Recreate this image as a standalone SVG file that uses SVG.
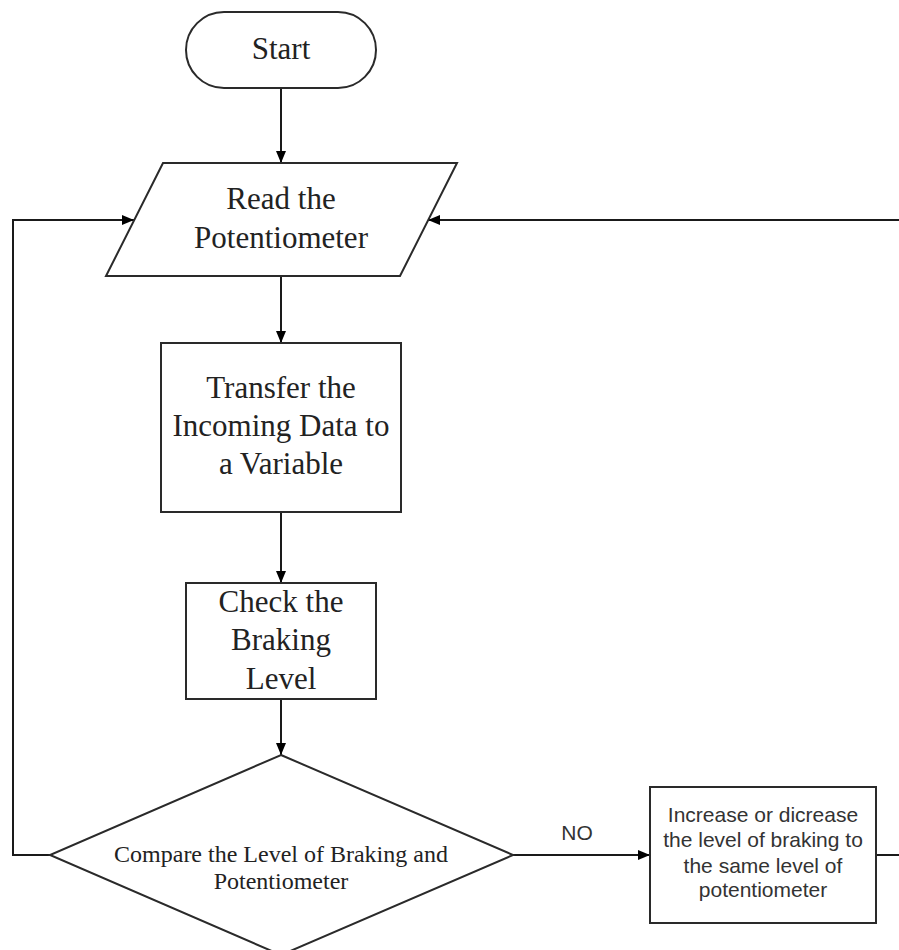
<svg xmlns="http://www.w3.org/2000/svg" width="899" height="950" viewBox="0 0 899 950">
<defs>
<style>
.shape{fill:#fff;stroke:#2a2a2a;stroke-width:2}
.line{fill:none;stroke:#1a1a1a;stroke-width:2}
.serif{font-family:"Liberation Serif","Times New Roman",serif;fill:#222;text-anchor:middle}
.sans{font-family:"Liberation Sans",Arial,sans-serif;fill:#333;text-anchor:middle}
</style>
<marker id="arr" markerUnits="userSpaceOnUse" markerWidth="12" markerHeight="12" viewBox="0 0 12 12" refX="12" refY="6" orient="auto">
<path d="M0,1 L12,6 L0,11 Z" fill="#000"/>
</marker>
</defs>
<rect width="899" height="950" fill="#fff"/>
<g id="connectors">
<line class="line" x1="281" y1="88" x2="281" y2="163" marker-end="url(#arr)"/>
<line class="line" x1="281" y1="276" x2="281" y2="343" marker-end="url(#arr)"/>
<line class="line" x1="281" y1="512" x2="281" y2="583" marker-end="url(#arr)"/>
<line class="line" x1="281" y1="699" x2="281" y2="755" marker-end="url(#arr)"/>
<polyline class="line" points="50,855 13,855 13,220 134,220" marker-end="url(#arr)"/>
<line class="line" x1="513" y1="855" x2="650" y2="855" marker-end="url(#arr)"/>
<text class="sans" x="577" y="840" font-size="21">NO</text>
<line class="line" x1="876" y1="855" x2="899" y2="855"/>
<line class="line" x1="899" y1="220" x2="428" y2="220" marker-end="url(#arr)"/>
</g>
<g id="start">
<rect class="shape" x="186" y="12" width="190" height="76" rx="38" ry="38"/>
<text class="serif" x="281" y="59" font-size="31">Start</text>
</g>
<g id="read">
<polygon class="shape" points="163,163 457,163 400,276 106,276"/>
<text class="serif" x="281" y="209" font-size="31">Read the</text>
<text class="serif" x="281" y="248" font-size="31">Potentiometer</text>
</g>
<g id="transfer">
<rect class="shape" x="161" y="343" width="240" height="169"/>
<text class="serif" x="281" y="398" font-size="31">Transfer the</text>
<text class="serif" x="281" y="436" font-size="31">Incoming Data to</text>
<text class="serif" x="281" y="474" font-size="31">a Variable</text>
</g>
<g id="check">
<rect class="shape" x="186" y="583" width="190" height="116"/>
<text class="serif" x="281" y="612" font-size="31">Check the</text>
<text class="serif" x="281" y="650" font-size="31">Braking</text>
<text class="serif" x="281" y="689" font-size="31">Level</text>
</g>
<g id="compare">
<polygon class="shape" points="281,755 513,855 281,955 50,855"/>
<text class="serif" x="281" y="862" font-size="24">Compare the Level of Braking and</text>
<text class="serif" x="281" y="889" font-size="24">Potentiometer</text>
</g>
<g id="adjust">
<rect class="shape" x="650" y="787" width="226" height="136"/>
<text class="sans" x="763" y="822" font-size="21">Increase or dicrease</text>
<text class="sans" x="763" y="847" font-size="21">the level of braking to</text>
<text class="sans" x="763" y="873" font-size="21">the same level of</text>
<text class="sans" x="763" y="897" font-size="21">potentiometer</text>
</g>
</svg>
